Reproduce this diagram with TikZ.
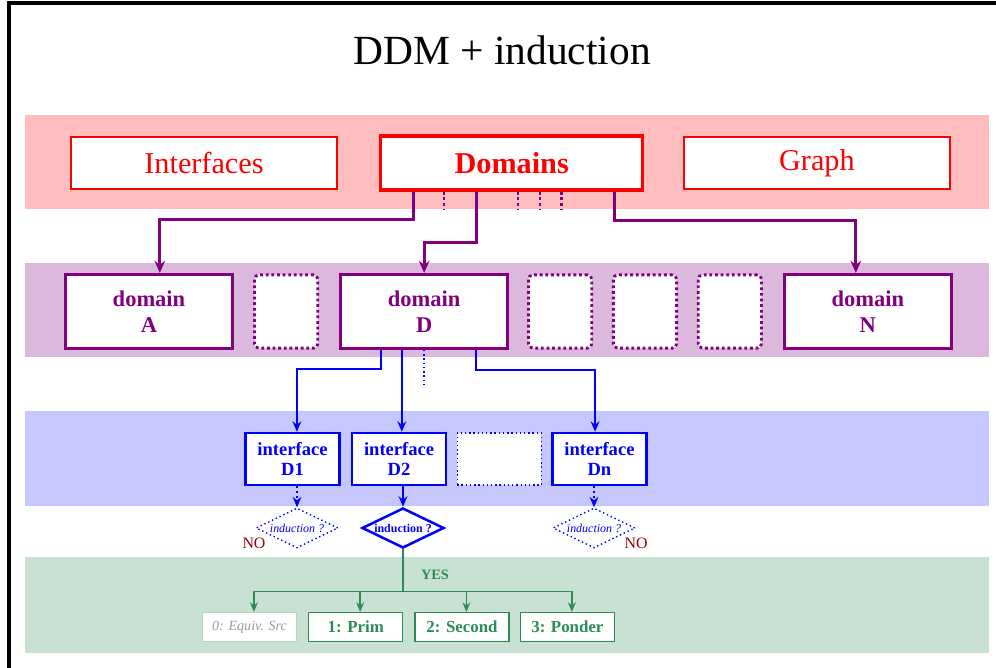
\documentclass[tikz,border=0pt]{standalone}
\usepackage{fontspec}
\setmainfont{Liberation Serif}
\usetikzlibrary{shapes.geometric,arrows.meta,positioning,calc}
\definecolor{ddmRed}{HTML}{FF0000}
\definecolor{ddmPurple}{HTML}{800080}
\definecolor{ddmBlue}{HTML}{0000FF}
\definecolor{ddmGreen}{HTML}{2E8B57}
\definecolor{ddmNo}{HTML}{990000}
\tikzset{
    % Layer boxes
    topBox/.style={
        rectangle,
        draw=ddmRed,
        fill=white,
        line width=1pt,
        minimum width=6.65cm,
        minimum height=1.3cm,
        text=ddmRed,
        font=\fontsize{21.5}{24}\selectfont
    },
    domBox/.style={
        rectangle,
        draw=ddmPurple,
        fill=white,
        line width=2.2pt,
        minimum width=4.17cm,
        minimum height=1.85cm,
        align=center,
        text=ddmPurple,
        font=\fontsize{16}{18.5}\selectfont\bfseries
    },
    ifaceBox/.style={
        rectangle,
        draw=ddmBlue,
        fill=white,
        line width=1.8pt,
        minimum width=2.35cm,
        minimum height=1.3cm,
        align=center,
        text=ddmBlue,
        font=\fontsize{13.2}{14.5}\selectfont\bfseries
    },
    resBox/.style={
        rectangle,
        draw=ddmGreen,
        fill=white,
        line width=1pt,
        minimum width=2.35cm,
        minimum height=0.72cm,
        text=ddmGreen,
        font=\fontsize{12}{14}\selectfont\bfseries
    },
    decide/.style={
        diamond,
        aspect=2,
        draw=ddmBlue,
        fill=white,
        inner sep=0pt,
        minimum width=2.05cm,
        minimum height=1.0cm,
        text=ddmBlue,
        font=\fontsize{8.5}{10}\selectfont
    },
    % Placeholders
    ghostDom/.style={draw=ddmPurple, fill=white, dotted, line width=2pt, rounded corners=3pt, minimum width=1.58cm, minimum height=1.83cm},
    ghostIface/.style={draw=ddmBlue, fill=white, dotted, line width=1pt, minimum width=2.1cm, minimum height=1.3cm},
    % Arrows
    purpleArrow/.style={-{Stealth[length=3mm,width=2.6mm]}, line width=2.1pt, draw=ddmPurple},
    blueArrow/.style={-{Stealth[length=2.6mm,width=2.2mm]}, line width=1.4pt, draw=ddmBlue},
    greenArrow/.style={-{Stealth[length=2.4mm,width=2mm]}, line width=1pt, draw=ddmGreen},
    greenLine/.style={line width=1pt, draw=ddmGreen},
    noText/.style={text=ddmNo, font=\fontsize{11.3}{13}\selectfont}
}
\begin{document}
\begin{tikzpicture}[x=0.025cm, y=-0.025cm]
\useasboundingbox (0,0) rectangle (996,668);
\fill[white] (0,0) rectangle (996,668);
\draw[line width=2.2pt] (9,668) -- (9,3) -- (996,3);

% layers
\fill[ddmRed!26] (25,115) rectangle (989,209);
\fill[ddmPurple!28] (25,263) rectangle (989,357);
\fill[ddmBlue!22] (25,411) rectangle (989,506);
\fill[ddmGreen!26] (25,557) rectangle (989,653);

\node[font=\fontsize{29.5}{32}\selectfont] (title) at (502,50) {DDM + induction};

% top layer
\node[topBox] (iface) at (204,163) {Interfaces};
\node[topBox, line width=2.4pt, minimum width=6.55cm, minimum height=1.35cm, font=\fontsize{21.5}{24}\selectfont\bfseries, right=1.03cm of iface] (dom) {Domains};
\node[topBox, right=0.97cm of dom] (graph) {Graph};

% domains
\node[domBox] (dA) at (149,311.5) {domain\\A};
\node[ghostDom, right=0.48cm of dA] (g1) {};
\node[domBox, right=0.5cm of g1] (dD) {domain\\D};
\node[ghostDom, right=0.45cm of dD] (g2) {};
\node[ghostDom, right=0.47cm of g2] (g3) {};
\node[ghostDom, right=0.47cm of g3] (g4) {};
\node[domBox, right=0.5cm of g4] (dN) {domain\\N};

\draw[purpleArrow] ([xshift=-2.46cm]dom.south) -- ++(0,28) -| ([xshift=0.27cm]dA.north);
\draw[purpleArrow] ([xshift=-0.89cm]dom.south) -- ++(0,51) -| (dD.north);
\draw[purpleArrow] ([xshift=2.56cm]dom.south) -- ++(0,29) -| ([xshift=-0.3cm]dN.north);
\foreach \dx in {-1.69,0.16,0.71,1.24}
    \draw[ddmPurple, dotted, line width=2pt] ([xshift=\dx cm]dom.south) -- ++(0,17);

% interfaces
\node[ifaceBox] (q1) at (292.5,459) {interface\\D1};
\node[ifaceBox, right=0.25cm of q1] (q2) {interface\\D2};
\node[ghostIface, right=0.23cm of q2] (g5) {};
\node[ifaceBox, right=0.23cm of g5] (qn) {interface\\Dn};

\draw[blueArrow] ([xshift=-1.09cm]dD.south) -- ++(0,19) -| ([xshift=0.11cm]q1.north);
\draw[blueArrow] ([xshift=-0.56cm]dD.south) coordinate (t2) -- (t2 |- q2.north);
\draw[ddmBlue, dotted, line width=1pt] (dD.south) -- ++(0,37);
\draw[blueArrow] ([xshift=1.29cm]dD.south) -- ++(0,20) -| ([xshift=-0.11cm]qn.north);

% induction tests
\node[decide, dotted, line width=1pt, font=\fontsize{8.5}{10}\selectfont\itshape] (dm1) at (297,528) {induction ?};
\node[decide, line width=1.8pt, font=\fontsize{8.5}{10}\selectfont\bfseries] (dm2) at (403,528) {induction ?};
\node[decide, dotted, line width=1pt, font=\fontsize{8.5}{10}\selectfont\itshape] (dmn) at (594,528) {induction ?};

\draw[blueArrow, dotted, line width=1pt] (q1.south -| dm1.north) -- (dm1.north);
\draw[blueArrow] (q2.south -| dm2.north) -- (dm2.north);
\draw[blueArrow, dotted, line width=1pt] (qn.south -| dmn.north) -- (dmn.north);

\node[noText] (no1) at (254,543) {NO};
\node[noText] (no2) at (636,543) {NO};

% results
\node[resBox, draw=ddmGreen!35, text=gray!80, font=\fontsize{10}{12}\selectfont\itshape] (r0) at (249.5,627) {0: Equiv. Src};
\node[resBox, right=0.27cm of r0] (r1) {1: Prim};
\node[resBox, right=0.27cm of r1] (r2) {2: Second};
\node[resBox, right=0.25cm of r2] (r3) {3: Ponder};

\draw[greenLine] (dm2.south) -- ++(0,42) coordinate (bus);
\draw[greenLine] ([xshift=0.11cm]bus -| r0.north) -- ([xshift=0.11cm]bus -| r3.north);
\foreach \r in {r0,r1,r2,r3}
    \draw[greenArrow] ([xshift=0.11cm]bus -| \r.north) -- ([xshift=0.11cm]\r.north);
\node[text=ddmGreen, font=\fontsize{10.2}{12}\selectfont\bfseries] (yes) at (435,575) {YES};
\end{tikzpicture}
\end{document}
